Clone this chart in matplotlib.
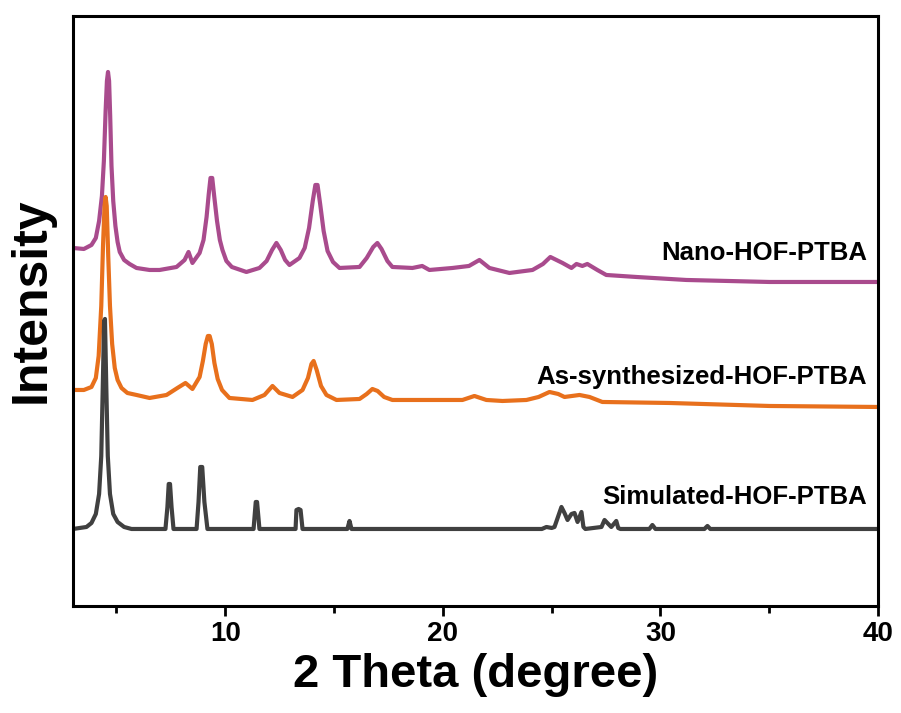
import matplotlib

matplotlib.use("Agg")
import matplotlib.pyplot as plt

plt.rcParams["font.family"] = ["Liberation Sans", "DejaVu Sans"]
plt.rcParams["font.weight"] = "bold"

# traced XRD patterns (2 theta in degree, intensity in a.u., already stacked)
nano_x = [3.0, 3.5, 3.85, 4.05, 4.20, 4.33, 4.42, 4.50, 4.56, 4.61, 4.66, 4.71,
          4.77, 4.85, 4.95, 5.05, 5.15, 5.35, 5.60, 5.92, 6.52, 6.98, 7.76,
          8.13, 8.31, 8.49, 8.82, 9.00, 9.14, 9.24, 9.32, 9.40, 9.50, 9.62,
          9.75, 9.87, 10.05, 10.30, 10.97, 11.57, 11.90, 12.15, 12.35, 12.55,
          12.75, 12.95, 13.41, 13.65, 13.85, 14.02, 14.14, 14.24, 14.36, 14.52,
          14.70, 14.95, 15.25, 16.17, 16.50, 16.80, 16.99, 17.18, 17.45, 17.68,
          18.60, 19.05, 19.38, 20.44, 21.20, 21.68, 22.14, 23.06, 24.12, 24.60,
          24.94, 25.50, 25.91, 26.14, 26.41, 26.64, 27.10, 27.51, 28.89, 31.19,
          35.01, 40.0]
nano_y = [358, 357, 361, 368, 385, 410, 445, 495, 525, 534, 525, 490,
          440, 405, 380, 364, 354, 346, 342, 338, 336, 336, 339,
          346, 354, 343, 353, 366, 389, 412, 428, 428, 408, 385,
          366, 356, 345, 339, 334, 338, 345, 356, 363, 356,
          346, 341, 348, 358, 378, 405, 421, 421, 402, 375,
          355, 344, 338, 339, 348, 359, 363, 357, 345, 339,
          338, 340, 336, 338, 340, 346, 338, 333, 336, 342,
          349, 343, 338, 342, 340, 342, 336, 331, 329, 326,
          324, 324]

synth_x = [3.0, 3.5, 3.85, 4.05, 4.18, 4.30, 4.38, 4.45, 4.50, 4.55, 4.62, 4.70,
           4.80, 4.92, 5.05, 5.23, 5.50, 5.92, 6.52, 7.30, 7.80, 8.17, 8.49,
           8.82, 8.97, 9.10, 9.20, 9.28, 9.38, 9.50, 9.65, 9.85, 10.19, 11.25,
           11.80, 12.17, 12.49, 13.09, 13.55, 13.80, 13.96, 14.06, 14.20, 14.40,
           14.65, 15.11, 16.17, 16.50, 16.76, 17.00, 17.30, 17.68, 19.24, 20.90,
           21.45, 22.00, 22.74, 23.84, 24.40, 24.90, 25.30, 25.59, 26.28, 26.74,
           27.33, 30.41, 35.01, 40.0]
synth_y = [216, 216, 219, 228, 250, 300, 360, 400, 409, 400, 350, 300,
           262, 238, 226, 218, 213, 211, 208, 211, 218, 223, 217,
           229, 245, 262, 270, 270, 262, 243, 227, 216, 208, 206,
           211, 220, 213, 209, 216, 228, 242, 245, 236, 220,
           211, 206, 207, 212, 217, 215, 209, 206, 206, 206,
           210, 206, 205, 206, 209, 214, 212, 209, 211, 209,
           204, 203, 200, 199]

sim_x = [3.0, 3.62, 3.85, 4.05, 4.20, 4.30, 4.37, 4.43, 4.47, 4.53, 4.60, 4.70,
         4.85, 5.05, 5.35, 5.69, 7.25, 7.34, 7.40, 7.46, 7.53, 7.62, 8.68,
         8.77, 8.85, 8.94, 9.04, 9.18, 11.30, 11.40, 11.46, 11.57, 13.23, 13.27,
         13.37, 13.46, 13.55, 15.61, 15.71, 15.80, 24.55, 24.76, 25.0, 25.13,
         25.45, 25.59, 25.73, 25.91, 26.05, 26.19, 26.37, 26.46, 26.55, 27.29,
         27.43, 27.56, 27.74, 27.97, 28.06, 28.16, 29.49, 29.63, 29.77, 32.02,
         32.16, 32.29, 40.0]
sim_y = [77, 79, 83, 92, 112, 150, 220, 285, 287, 220, 150, 112,
         92, 84, 79, 77, 77, 99, 122, 122, 99, 77, 77,
         104, 139, 139, 104, 77, 77, 104, 104, 77, 77, 96,
         97, 96, 77, 77, 85, 77, 77, 79, 78, 79,
         99, 93, 86, 92, 93, 84, 94, 79, 77, 79,
         86, 83, 79, 85, 78, 77, 77, 81, 77, 77,
         80, 77, 77]

labels = ["Nano-HOF-PTBA", "As-synthesized-HOF-PTBA", "Simulated-HOF-PTBA"]
label_y = [353, 229, 109]
colors = ["#A94B8D", "#E8701C", "#404040"]

fig = plt.figure(figsize=(9.01, 7.13), dpi=100)
ax = fig.add_axes([0.0810, 0.1501, 0.8935, 0.8275])

for xs, ys, c in [(nano_x, nano_y, colors[0]),
                  (synth_x, synth_y, colors[1]),
                  (sim_x, sim_y, colors[2])]:
    ax.plot(xs, ys, color=c, lw=3.0, solid_joinstyle="round", solid_capstyle="round")

for name, yv in zip(labels, label_y):
    ax.text(39.5, yv, name, ha="right", va="center", fontsize=18.5, fontweight="bold")

ax.set_xlim(3, 40)
ax.set_ylim(0, 590)
ax.set_xticks([10, 20, 30, 40])
ax.set_xticks([5, 15, 25, 35], minor=True)
ax.set_yticks([])
ax.tick_params(axis="x", which="major", direction="out", length=7, width=2,
               labelsize=20, pad=4)
ax.tick_params(axis="x", which="minor", direction="out", length=5, width=2)
for lab in ax.get_xticklabels():
    lab.set_fontweight("bold")
for sp in ax.spines.values():
    sp.set_linewidth(2.2)

ax.set_xlabel("2 Theta (degree)", fontsize=34, fontweight="bold", labelpad=4)
fig.text(32 / 901, 1 - 300 / 713, "Intensity", rotation=90, ha="center", va="center",
         fontsize=36, fontweight="bold")

fig.savefig("out.png", dpi=100)
